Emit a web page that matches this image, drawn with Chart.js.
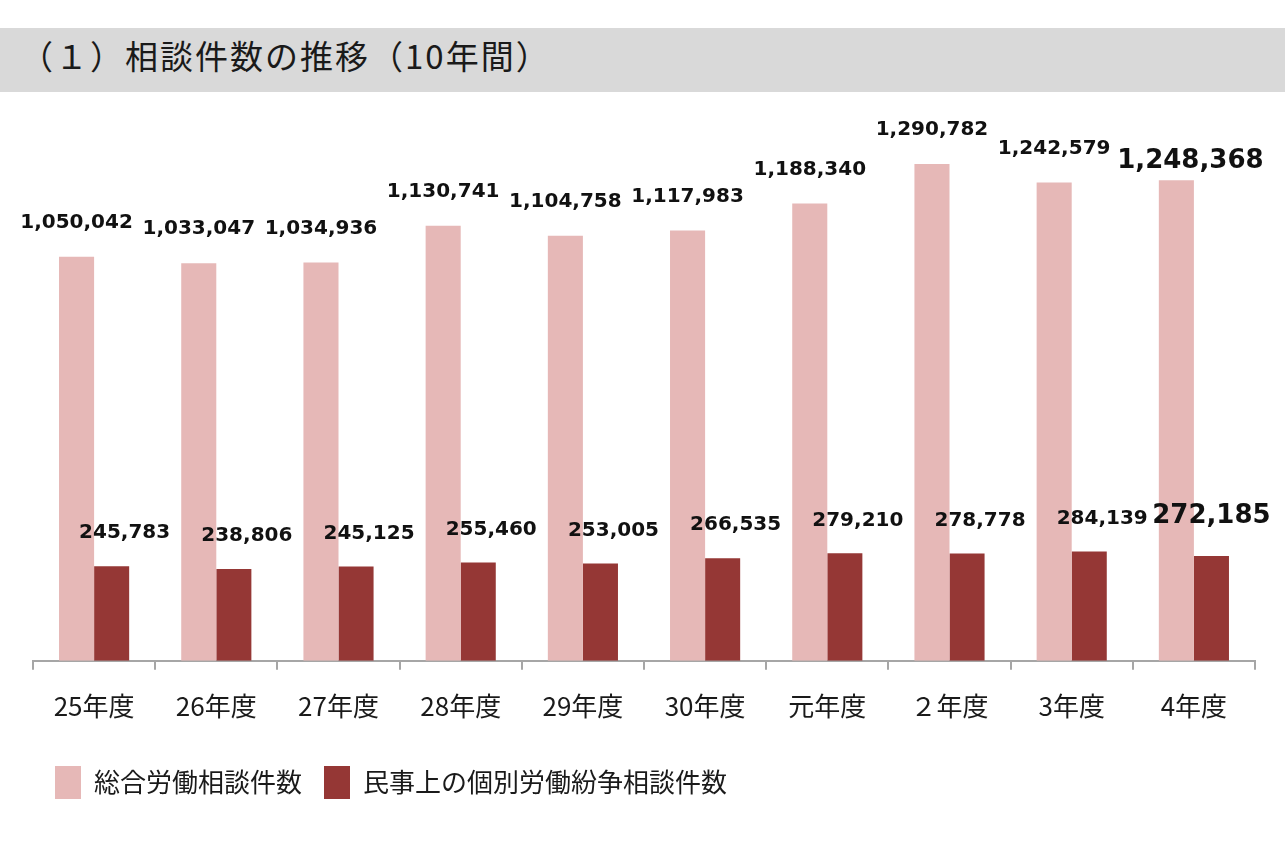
<!DOCTYPE html>
<html>
<head>
<meta charset="utf-8">
<script src="https://cdn.jsdelivr.net/npm/chart.js@4.4.0/dist/chart.umd.min.js"></script>
<style>
  body { margin: 0; background: #fff; }
  #banner {
    position: absolute; left: 0; top: 28px; width: 1285px; height: 64px;
    background: #d9d9d9;
    font-family: "Noto Sans CJK JP", sans-serif; font-size: 33px; color: #1a1a1a;
    letter-spacing: 2px;
    line-height: 54px; padding-left: 20px; box-sizing: border-box;
  }
  #wrap { position: absolute; left: 0; top: 0; width: 1285px; height: 844px; }
</style>
</head>
<body>
<div id="banner">（１）相談件数の推移（10年間）</div>
<div id="wrap"><canvas id="bar"></canvas></div>
<script>
// 相談件数の推移

var nendo = ['25年度', '26年度', '27年度', '28年度', '29年度', '30年度', '元年度', '２年度', '3年度', '4年度'];
var sougou = [1050042, 1033047, 1034936, 1130741, 1104758, 1117983, 1188340, 1290782, 1242579, 1248368];
var minji = [245783, 238806, 245125, 255460, 253005, 266535, 279210, 278778, 284139, 272185];

var labelPlugin = {
    id: 'barLabels',
    afterDatasetsDraw: function (chart) {
        var ctx = chart.ctx;
        var last = nendo.length - 1;
        ctx.save();
        ctx.fillStyle = '#111';
        ctx.textAlign = 'center';
        ctx.textBaseline = 'middle';
        chart.data.datasets.forEach(function (ds, d) {
            chart.getDatasetMeta(d).data.forEach(function (bar, i) {
                var big = (i === last);
                ctx.font = 'bold ' + (big ? 26 : 20) + 'px "DejaVu Sans"';
                var dx = 0, dy = -34;
                if (d === 0 && big) { dx = 14; dy = -19; }
                if (d === 1) { dx = big ? 0 : 13; dy = big ? -40 : -33; }
                ctx.fillText(ds.data[i].toLocaleString('en-US'), bar.x + dx, bar.y + dy);
            });
        });
        ctx.restore();
    }
};

var ctx = document.getElementById('bar').getContext('2d');
var barchart = new Chart(ctx, {

    type: 'bar',

    data: {
        labels: nendo,
        datasets: [{
            label: '総合労働相談件数',
            backgroundColor: '#e6b8b7',
            data: sougou
        }, {
            label: '民事上の個別労働紛争相談件数',
            backgroundColor: '#953735',
            data: minji
        }]
    },

    options: {
        responsive: true,
        maintainAspectRatio: false,
        animation: false,
        layout: { padding: { left: 33, right: 30, top: 122, bottom: 35 } },
        datasets: { bar: { categoryPercentage: 0.574, barPercentage: 1 } },
        scales: {
            x: {
                afterFit: function (scale) { scale.height += 1; },
                grid: { offset: true, drawOnChartArea: false, color: '#a6a6a6', tickLength: 9, lineWidth: 2 },
                border: { color: '#a6a6a6', width: 2 },
                ticks: { color: '#1a1a1a', font: { family: '"Noto Sans CJK JP"', size: 26 }, padding: 21 }
            },
            y: {
                display: false,
                min: 0,
                max: 1400000
            }
        },
        plugins: {
            legend: {
                position: 'bottom',
                align: 'start',
                labels: {
                    boxWidth: 26, boxHeight: 33, padding: 22,
                    color: '#1a1a1a',
                    font: { family: '"Noto Sans CJK JP"', size: 26 }
                }
            },
            tooltip: { enabled: false }
        }
    },
    plugins: [labelPlugin]
});
</script>
</body>
</html>
